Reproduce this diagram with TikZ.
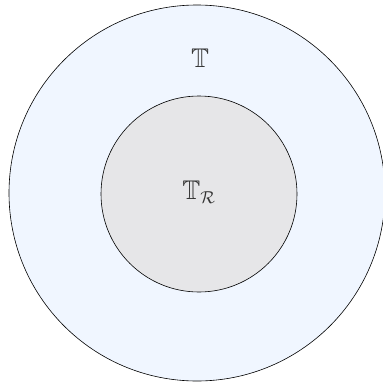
\documentclass[tikz,border=0pt]{standalone}
\usepackage{amssymb}
\begin{document}
\begin{tikzpicture}[x=1pt,y=-1pt,
  ring/.style={circle,draw=black,line width=0.6pt,inner sep=0pt},
  lbl/.style={text=black!80,font=\fontsize{27}{32}\selectfont}]
\useasboundingbox (0,0) rectangle (383,383);
\node[ring,fill={rgb,255:red,240;green,246;blue,255},minimum size=376pt] (outer) at (197,193) {};
\node[ring,fill={rgb,255:red,230;green,230;blue,232},minimum size=196pt] (inner) at (199,194) {};
\node[lbl] (t) at (200,58) {$\mathbb{T}$};
\node[lbl] (tr) at (199,192) {$\mathbb{T}_{\mathcal{R}}$};
\end{tikzpicture}
\end{document}
